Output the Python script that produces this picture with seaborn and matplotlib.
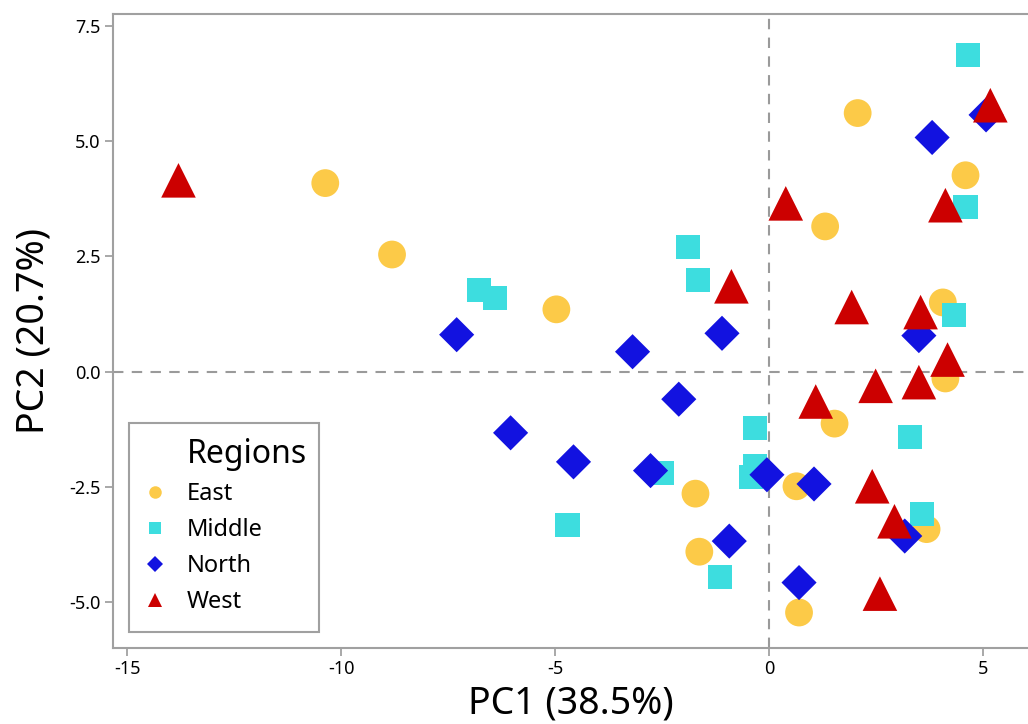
import matplotlib
matplotlib.use("Agg")
import matplotlib.pyplot as plt
from matplotlib.lines import Line2D
from matplotlib.patches import Rectangle
import seaborn as sns
import pandas as pd

# ---- data ----
regions = ["East", "Middle", "North", "West"]

east_pc1 = [-10.37, -8.81, -4.97, 2.07, 1.31, 4.59, 4.06, 4.12, 1.53, -1.72, 0.64, -1.63, 0.70, 3.68]
east_pc2 = [4.09, 2.54, 1.35, 5.61, 3.15, 4.26, 1.50, -0.15, -1.13, -2.65, -2.49, -3.91, -5.23, -3.42]

middle_pc1 = [4.65, 4.59, -1.90, -1.67, -6.78, -6.41, -0.32, -0.33, -0.43, -2.50, -4.71, -1.14, 3.29, 4.31, 3.58]
middle_pc2 = [6.88, 3.57, 2.71, 1.98, 1.76, 1.59, -1.22, -2.06, -2.28, -2.20, -3.33, -4.46, -1.42, 1.22, -3.10]

north_pc1 = [-7.30, -3.19, -1.10, -2.11, -6.04, -4.57, -2.77, -0.05, 1.05, -0.93, 0.70, 3.17, 3.50, 3.81, 5.07]
north_pc2 = [0.80, 0.43, 0.83, -0.60, -1.33, -1.96, -2.15, -2.24, -2.44, -3.68, -4.58, -3.57, 0.78, 5.08, 5.57]

west_pc1 = [-13.80, 0.39, -0.88, 4.12, 5.17, 1.93, 3.54, 4.17, 2.49, 3.50, 1.09, 2.41, 2.93, 2.59]
west_pc2 = [4.15, 3.65, 1.85, 3.61, 5.78, 1.40, 1.29, 0.26, -0.31, -0.23, -0.65, -2.49, -3.25, -4.82]

x_ticks = [-15, -10, -5, 0, 5]
x_ticklabels = ["-15", "-10", "-5", "0", "5"]
y_ticks = [-5.0, -2.5, 0.0, 2.5, 5.0, 7.5]
y_ticklabels = ["-5.0", "-2.5", "0.0", "2.5", "5.0", "7.5"]

# ---- build frame ----
frames = []
for name, xs, ys in [("East", east_pc1, east_pc2), ("Middle", middle_pc1, middle_pc2),
                     ("North", north_pc1, north_pc2), ("West", west_pc1, west_pc2)]:
    frames.append(pd.DataFrame({"PC1": xs, "PC2": ys, "Region": name}))
df = pd.concat(frames, ignore_index=True)

palette = {"East": "#FCCA48", "Middle": "#3DDDDF", "North": "#1212E0", "West": "#CC0000"}
markers = {"East": "o", "Middle": "s", "North": "D", "West": "^"}
sizes = {"East": 400, "Middle": 300, "North": 320, "West": 620}

sns.set_style("white")
plt.rcParams["font.family"] = ["Noto Sans", "DejaVu Sans"]
plt.rcParams["axes.unicode_minus"] = False
plt.rcParams["text.color"] = "black"
plt.rcParams["axes.labelcolor"] = "black"

fig = plt.figure(figsize=(10.28, 7.24), dpi=100)
ax = fig.add_axes([113 / 1028, (724 - 648) / 724, (1028 - 113) / 1028, (648 - 14) / 724])

ax.axhline(0, color="#9a9a9a", linestyle=(0, (5, 4)), linewidth=1.5, zorder=1)
ax.axvline(0, color="#9a9a9a", linestyle=(0, (5, 4)), linewidth=1.5, zorder=1)

sns.scatterplot(data=df, x="PC1", y="PC2", hue="Region", style="Region", size="Region",
                palette=palette, markers=markers, sizes=sizes, hue_order=regions,
                style_order=regions, size_order=regions, linewidth=0, alpha=1,
                legend=False, ax=ax, zorder=3)

ax.set_xlim(-15.33, 6.05)
ax.set_ylim(-6.0, 7.76)
ax.set_xticks(x_ticks)
ax.set_xticklabels(x_ticklabels)
ax.set_yticks(y_ticks)
ax.set_yticklabels(y_ticklabels)
ax.tick_params(axis="both", direction="out", length=6, width=1.2, color="#9a9a9a",
               labelsize=13, labelcolor="black", pad=3, bottom=True, left=True)

for side in ["left", "bottom", "top"]:
    ax.spines[side].set_visible(True)
    ax.spines[side].set_color("#a0a0a0")
    ax.spines[side].set_linewidth(1.5)
ax.spines["right"].set_visible(False)

ax.set_xlabel("PC1 (38.5%)", fontsize=27, labelpad=4)
ax.set_ylabel("PC2 (20.7%)", fontsize=27, labelpad=12)

# legend box
ax.add_patch(Rectangle((0.0175, 0.025), 0.2075, 0.33, transform=ax.transAxes,
                       facecolor="white", edgecolor="#a0a0a0", linewidth=1.5, zorder=5))

# legend
handles = [Line2D([], [], linestyle="none")]
leg_ms = {"East": 9, "Middle": 8.5, "North": 8.5, "West": 10}
for r in regions:
    handles.append(Line2D([], [], linestyle="none", marker=markers[r], color=palette[r],
                          markersize=leg_ms[r], markeredgewidth=0))
labels = ["Regions"] + regions
leg = ax.legend(handles, labels, loc="upper left", bbox_to_anchor=(0.0175, 0.3486),
                fontsize=17, frameon=False,
                borderpad=0.45, labelspacing=0.5, handletextpad=0.7, handlelength=1.3,
                borderaxespad=0)
leg.set_zorder(6)
leg.get_texts()[0].set_fontsize(23)

fig.savefig("out.png", dpi=100)
